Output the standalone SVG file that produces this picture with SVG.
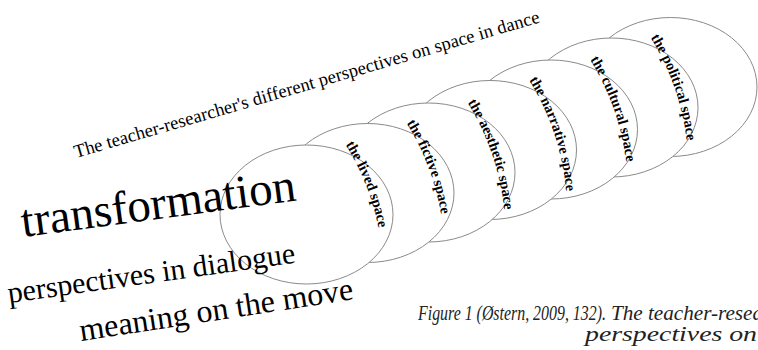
<svg xmlns="http://www.w3.org/2000/svg" xmlns:xlink="http://www.w3.org/1999/xlink" width="758" height="350" viewBox="0 0 758 350">
<style>
.oval{fill:#ffffff;stroke:#8a8a8a;stroke-width:1}
.lbl{font-family:"Liberation Serif","Times New Roman",serif;font-weight:bold;font-size:14.5px;fill:#000}
.serif{font-family:"Liberation Serif","Times New Roman",serif;fill:#000}
.cap{font-family:"Liberation Serif","Times New Roman",serif;font-style:italic;fill:#222}
</style>
<defs>
<path id="arcpath" d="M 39 -70 A 250 250 0 0 1 77 62.5" fill="none"/>
</defs>
<rect width="758" height="350" fill="#ffffff"/>
<g id="connectors"></g>
<g id="node-back" transform="translate(670.5,87)">
<ellipse class="oval" cx="0" cy="0" rx="86.5" ry="69.5"/>
</g>
<g id="node-political" transform="translate(611.5,107.5)">
<ellipse class="oval" cx="0" cy="0" rx="86.5" ry="69.5"/>
<text class="lbl"><textPath href="#arcpath" xlink:href="#arcpath">the political space</textPath></text>
</g>
<g id="node-cultural" transform="translate(551,129.5)">
<ellipse class="oval" cx="0" cy="0" rx="86.5" ry="69.5"/>
<text class="lbl"><textPath href="#arcpath" xlink:href="#arcpath">the cultural space</textPath></text>
</g>
<g id="node-narrative" transform="translate(490,150)">
<ellipse class="oval" cx="0" cy="0" rx="86.5" ry="69.5"/>
<text class="lbl"><textPath href="#arcpath" xlink:href="#arcpath">the narrative space</textPath></text>
</g>
<g id="node-aesthetic" transform="translate(428.5,172.5)">
<ellipse class="oval" cx="0" cy="0" rx="86.5" ry="69.5"/>
<text class="lbl"><textPath href="#arcpath" xlink:href="#arcpath">the aesthetic space</textPath></text>
</g>
<g id="node-fictive" transform="translate(367.5,193)">
<ellipse class="oval" cx="0" cy="0" rx="86.5" ry="69.5"/>
<text class="lbl"><textPath href="#arcpath" xlink:href="#arcpath">the fictive space</textPath></text>
</g>
<g id="node-lived" transform="translate(306.5,214.5)">
<ellipse class="oval" cx="0" cy="0" rx="86.5" ry="69.5"/>
<text class="lbl"><textPath href="#arcpath" xlink:href="#arcpath">the lived space</textPath></text>
</g>
<g id="title">
<text class="serif" font-size="18.5" transform="translate(76,158) rotate(-16.3)" textLength="484">The teacher-researcher's different perspectives on space in dance</text>
</g>
<g id="words">
<text class="serif" font-size="47" transform="translate(23,237) rotate(-7.6)">transformation</text>
<text class="serif" font-size="30" transform="translate(9,303) rotate(-8)">perspectives in dialogue</text>
<text class="serif" font-size="32" transform="translate(81,341) rotate(-8.7)">meaning on the move</text>
</g>
<g id="caption">
<text class="cap" font-size="21" x="418" y="320" textLength="188" lengthAdjust="spacingAndGlyphs">Figure 1 (Østern, 2009, 132).</text>
<text class="cap" font-size="21" x="611" y="320" textLength="152" lengthAdjust="spacingAndGlyphs">The teacher-resea</text>
<text class="cap" font-size="22" x="585" y="341" textLength="172" lengthAdjust="spacingAndGlyphs">perspectives on</text>
</g>
</svg>
